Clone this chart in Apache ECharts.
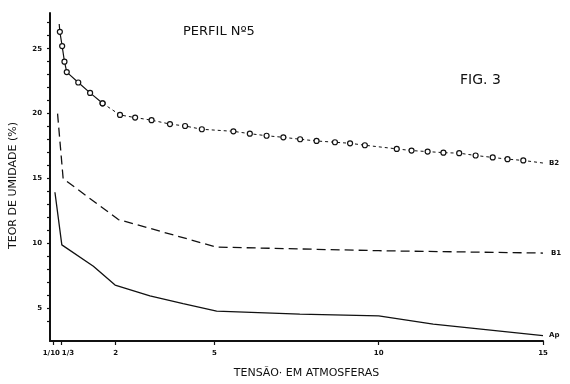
<!DOCTYPE html>
<html>
<head>
<meta charset="utf-8">
<script src="https://cdn.jsdelivr.net/npm/echarts@6/dist/echarts.min.js"></script>
<style>
  html, body { margin: 0; padding: 0; background: #fff; }
  #chart { width: 570px; height: 384px; }
</style>
</head>
<body>
<div id="chart"></div>
<script>
// curva B2 (circulos)
const b2X = [0.28, 0.30, 0.37, 0.44, 0.51, 0.86, 1.22, 1.60, 2.13, 2.59, 3.09, 3.65, 4.11, 4.62, 5.58, 6.08, 6.59, 7.10, 7.61, 8.11, 8.67, 9.13, 9.58, 10.55, 11.0, 11.49, 11.97, 12.45, 12.95, 13.47, 13.92, 14.40, 15.0];
const b2Y = [26.9, 26.3, 25.2, 24.0, 23.2, 22.4, 21.6, 20.8, 19.9, 19.7, 19.5, 19.2, 19.05, 18.8, 18.64, 18.46, 18.3, 18.18, 18.03, 17.9, 17.8, 17.72, 17.57, 17.29, 17.16, 17.08, 17.0, 16.96, 16.78, 16.63, 16.5, 16.4, 16.2];
// curva B1 (tracejada)
const b1X = [0.23, 0.40, 2.08, 5.07, 10.0, 15.0];
const b1Y = [20.0, 15.0, 11.85, 9.73, 9.45, 9.27];
// curva Ap (continua)
const apX = [0.15, 0.36, 1.32, 1.98, 3.04, 4.05, 5.07, 7.6, 10.0, 11.66, 15.0];
const apY = [13.95, 9.9, 8.26, 6.81, 5.97, 5.38, 4.80, 4.57, 4.44, 3.80, 2.92];

const xTicks = [0.1, 1 / 3, 2, 5, 10, 15];
const yLabels = [5, 10, 15, 20, 25];
const yTicks = [4, 5, 6, 7, 8, 9, 10, 11, 12, 13, 14, 15, 16, 17, 18, 19, 20, 21, 22, 23, 24, 25, 26, 27];

const ink = "#111";
const font = "DejaVu Sans";

function pairs(xs, ys) {
  return xs.map((x, i) => [x, ys[i]]);
}

// B2: primeiro trecho continuo, depois tracejado com circulos
const b2All = pairs(b2X, b2Y).map((p, i) => ({
  value: p,
  symbol: i === 0 || i === b2X.length - 1 ? "none" : "circle",
}));
const b2Split = 7;

let myChart = echarts.init(document.getElementById("chart"));
myChart.setOption({
  animation: false,
  backgroundColor: "#fff",
  title: [
    {
      text: "PERFIL Nº5",
      left: 183,
      top: 25,
      padding: 0,
      textStyle: { fontFamily: font, fontSize: 13, fontWeight: "normal", color: ink },
    },
    {
      text: "FIG. 3",
      left: 460,
      top: 73,
      padding: 0,
      textStyle: { fontFamily: font, fontSize: 14, fontWeight: "normal", color: ink },
    },
  ],
  grid: { left: 50, right: 27, top: 13, bottom: 40 },
  xAxis: {
    type: "value",
    min: 0,
    max: 15,
    name: "TENSÃO· EM ATMOSFERAS",
    nameLocation: "middle",
    nameGap: 27,
    nameTextStyle: { fontFamily: font, fontSize: 11, color: ink, padding: [0, 0, 0, 20] },
    splitLine: { show: false },
    axisLine: { lineStyle: { color: ink, width: 2 } },
    axisTick: {
      length: 4,
      customValues: xTicks,
      lineStyle: { color: ink, width: 1.2 },
    },
    axisLabel: {
      customValues: xTicks,
      margin: 9,
      fontFamily: font,
      fontSize: 7,
      fontWeight: "bold",
      color: ink,
      formatter: function (v) {
        if (Math.abs(v - 0.1) < 1e-6) return "{l|1/10}";
        if (Math.abs(v - 1 / 3) < 1e-6) return "{r|1/3}";
        return String(v);
      },
      rich: {
        l: { fontFamily: font, fontSize: 7, fontWeight: "bold", color: ink, padding: [0, 4, 0, 0] },
        r: { fontFamily: font, fontSize: 7, fontWeight: "bold", color: ink, padding: [0, 0, 0, 14] },
      },
    },
  },
  yAxis: {
    type: "value",
    min: 2.5,
    max: 27.75,
    name: "TEOR DE UMIDADE (%)",
    nameLocation: "middle",
    nameRotate: 90,
    nameGap: 31,
    nameTextStyle: { fontFamily: font, fontSize: 11, color: ink, padding: [0, 17, 0, 0] },
    splitLine: { show: false },
    axisLine: { show: true, lineStyle: { color: ink, width: 2 } },
    axisTick: {
      show: true,
      length: 3,
      customValues: yTicks,
      lineStyle: { color: ink, width: 1.2 },
    },
    axisLabel: {
      customValues: yLabels,
      margin: 8,
      fontFamily: font,
      fontSize: 7,
      fontWeight: "bold",
      color: ink,
    },
  },
  series: [
    {
      name: "B2a",
      type: "line",
      data: b2All.slice(0, b2Split + 1),
      symbolSize: 5,
      itemStyle: { color: "#fff", borderColor: ink, borderWidth: 1.2 },
      lineStyle: { color: ink, width: 1.2 },
    },
    {
      name: "B2",
      type: "line",
      data: b2All.slice(b2Split),
      symbolSize: 5,
      itemStyle: { color: "#fff", borderColor: ink, borderWidth: 1.2 },
      lineStyle: { color: ink, width: 1, type: [3, 3] },
      endLabel: {
        show: true,
        formatter: "B2",
        distance: 6,
        fontFamily: font,
        fontSize: 7,
        fontWeight: "bold",
        color: ink,
      },
    },
    {
      name: "B1",
      type: "line",
      data: pairs(b1X, b1Y),
      showSymbol: false,
      lineStyle: { color: ink, width: 1.3, type: [9, 5] },
      endLabel: {
        show: true,
        formatter: "B1",
        distance: 8,
        fontFamily: font,
        fontSize: 7,
        fontWeight: "bold",
        color: ink,
      },
    },
    {
      name: "Ap",
      type: "line",
      data: pairs(apX, apY),
      showSymbol: false,
      lineStyle: { color: ink, width: 1.3 },
      endLabel: {
        show: true,
        formatter: "Ap",
        distance: 6,
        fontFamily: font,
        fontSize: 7,
        fontWeight: "bold",
        color: ink,
      },
    },
  ],
});
</script>
</body>
</html>
